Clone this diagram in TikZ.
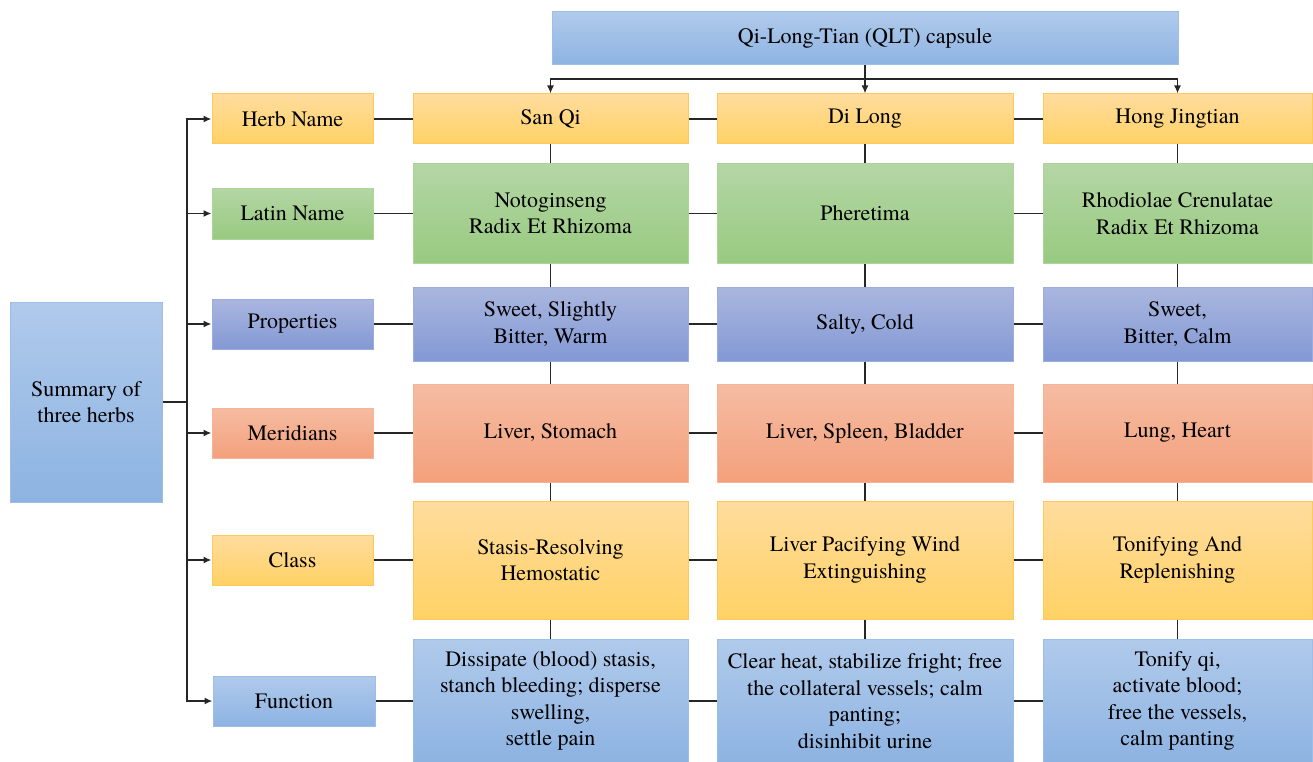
\documentclass[tikz,border=0pt]{standalone}
\usepackage{fontspec}
\setmainfont{texgyretermes}[Extension=.otf, UprightFont=*-regular, BoldFont=*-bold, ItalicFont=*-italic]
\usetikzlibrary{fit}
\usetikzlibrary{arrows.meta}
\definecolor{bluetop}{HTML}{B0CAEB}
\definecolor{bluebot}{HTML}{8DB3E2}
\definecolor{yeltop}{HTML}{FFDC9E}
\definecolor{yelbot}{HTML}{FFD265}
\definecolor{grntop}{HTML}{B4D6A5}
\definecolor{grnbot}{HTML}{98CA80}
\definecolor{protop}{HTML}{AAB6DF}
\definecolor{probot}{HTML}{8399D4}
\definecolor{saltop}{HTML}{F5BCA3}
\definecolor{salbot}{HTML}{F4A07B}
\tikzset{cell/.style={rectangle, line width=1pt, inner sep=0pt}}
\tikzset{txt/.style={align=center, inner sep=0pt, font=\fontsize{22}{26.5}\selectfont}}
\tikzset{bl/.style={cell, draw=bluebot!85!white, top color=bluetop, bottom color=bluebot}}
\tikzset{yl/.style={cell, draw=yelbot!90!orange, top color=yeltop, bottom color=yelbot}}
\tikzset{gr/.style={cell, draw=grnbot!80!white, top color=grntop, bottom color=grnbot}}
\tikzset{pr/.style={cell, draw=probot!80!white, top color=protop, bottom color=probot}}
\tikzset{sa/.style={cell, draw=salbot!80!white, top color=saltop, bottom color=salbot}}
\tikzset{wire/.style={line width=1.8pt, draw=black!85}}
\tikzset{tip/.style={wire, -{Latex[length=8pt,width=7pt]}}}

\begin{document}
\begin{tikzpicture}[x=1pt,y=-1pt]

    \useasboundingbox (0,0) rectangle (1313,762);

    \node[bl, fit={(552,12)(1178,65)}, label={[txt]center:Qi-Long-Tian (QLT) capsule}] (qlt) {};
    \node[bl, fit={(10,302)(162,502)}, label={[txt]center:Summary of\\three herbs}] (sum) {};

    % categories
    \node[yl, fit={(212,94)(373,144)}, label={[txt]center:Herb Name}] (herb) {};
    \node[gr, fit={(212,188)(373,239)}, label={[txt]center:Latin Name}] (latin) {};
    \node[pr, fit={(212,299)(373,349)}, label={[txt]center:Properties}] (prop) {};
    \node[sa, fit={(212,408)(373,458)}, label={[txt]center:Meridians}] (meri) {};
    \node[yl, fit={(212,535)(373,585)}, label={[txt]center:Class}] (cls) {};
    \node[bl, fit={(213,676)(375,726)}, label={[txt]center:Function}] (func) {};

    % San Qi
    \node[yl, fit={(413,94)(688,144)}, label={[txt]center:San Qi}] (sq-1) {};
    \node[gr, fit={(413,164)(688,263)}, label={[txt]center:Notoginseng\\Radix Et Rhizoma}] (sq-2) {};
    \node[pr, fit={(413,287)(688,361)}, label={[txt]center:Sweet, Slightly\\Bitter, Warm}] (sq-3) {};
    \node[sa, fit={(413,384)(688,482)}, label={[txt]center:Liver, Stomach}] (sq-4) {};
    \node[yl, fit={(413,501)(688,619)}, label={[txt]center:Stasis-Resolving\\Hemostatic}] (sq-5) {};
    \node[bl, fit={(413,639)(688,763)}, label={[txt]center:Dissipate (blood) stasis,\\stanch bleeding; disperse\\swelling,\\settle pain}] (sq-6) {};

    % Di Long
    \node[yl, fit={(717,94)(1013,144)}, label={[txt]center:Di Long}] (dl-1) {};
    \node[gr, fit={(717,164)(1013,263)}, label={[txt]center:Pheretima}] (dl-2) {};
    \node[pr, fit={(717,287)(1013,361)}, label={[txt]center:Salty, Cold}] (dl-3) {};
    \node[sa, fit={(717,384)(1013,482)}, label={[txt]center:Liver, Spleen, Bladder}] (dl-4) {};
    \node[yl, fit={(717,501)(1013,619)}, label={[txt]center:Liver Pacifying Wind\\Extinguishing}] (dl-5) {};
    \node[bl, fit={(717,639)(1013,763)}, label={[txt]center:Clear heat, stabilize fright; free\\the collateral vessels; calm\\panting;\\disinhibit urine}] (dl-6) {};

    % Hong Jingtian
    \node[yl, fit={(1043,94)(1312,144)}, label={[txt]center:Hong Jingtian}] (hj-1) {};
    \node[gr, fit={(1043,164)(1312,263)}, label={[txt]center:Rhodiolae Crenulatae\\Radix Et Rhizoma}] (hj-2) {};
    \node[pr, fit={(1043,287)(1312,361)}, label={[txt]center:Sweet,\\Bitter, Calm}] (hj-3) {};
    \node[sa, fit={(1043,384)(1312,482)}, label={[txt]center:Lung, Heart}] (hj-4) {};
    \node[yl, fit={(1043,501)(1312,619)}, label={[txt]center:Tonifying And\\Replenishing}] (hj-5) {};
    \node[bl, fit={(1043,639)(1312,763)}, label={[txt]center:Tonify qi,\\activate blood;\\free the vessels,\\calm panting}] (hj-6) {};

    % top branch
    \coordinate (top) at (qlt.south |- 0,79);
    \draw[tip] (qlt.south) -- (dl-1.north);
    \draw[tip] (top) -| (sq-1.north);
    \draw[tip] (top) -| (hj-1.north);

    % left trunk
    \coordinate (trunk) at (187,402);
    \draw[wire] (sum.east) -- (trunk);
    \foreach \c in {herb,latin,prop,meri,cls,func}
      \draw[tip] (trunk) |- (\c.west);

    % rows and columns
    \foreach \c [count=\i] in {herb,latin,prop,meri,cls,func} {
      \draw[wire] (\c) -- (sq-\i);
      \draw[wire] (sq-\i) -- (dl-\i);
      \draw[wire] (dl-\i) -- (hj-\i);
    }
    \foreach \i [evaluate=\i as \j using int(\i+1)] in {1,...,5} {
      \draw[wire] (sq-\i) -- (sq-\j);
      \draw[wire] (dl-\i) -- (dl-\j);
      \draw[wire] (hj-\i) -- (hj-\j);
    }

  \end{tikzpicture}
\end{document}
